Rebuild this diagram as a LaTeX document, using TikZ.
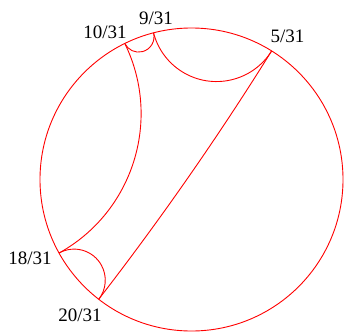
\documentclass[tikz,border=0pt]{standalone}
\usepackage{fontspec}
\setmainfont{Liberation Serif}
\usetikzlibrary{calc}
\newcommand\myR{151.5}
\tikzset{
  geo/.style={red, line width=0.9pt},
  lab/.style={font=\fontsize{19}{22}\selectfont, inner sep=0pt}
}
\newcommand\geodesic[2]{%
  \pgfmathsetmacro\ga{#1*360/31}%
  \pgfmathsetmacro\gb{#2*360/31}%
  \pgfmathsetmacro\gR{\myR*tan((\gb-\ga)/2)}%
  \draw[geo] (p#1) arc[start angle=\ga-90, end angle=\gb-270, radius=\gR pt];%
}
\begin{document}
\begin{tikzpicture}[x=1pt,y=1pt]
  \useasboundingbox (0,0) rectangle (344,-332);
  \coordinate (C) at (191.5,-179.5);
  \foreach \k in {5,9,10,18,20}{
    \coordinate (p\k) at ($(C)+({\k*360/31}:\myR pt)$);
  }
  \draw[geo] (C) circle[radius=\myR pt];
  \geodesic{9}{10}
  \geodesic{5}{9}
  \geodesic{10}{18}
  \geodesic{18}{20}
  \geodesic{5}{20}
  \node[lab] (l10) at (105,-32) {10/31};
  \node[lab] (l9) at (156,-18.5) {9/31};
  \node[lab] (l5) at (287.5,-36) {5/31};
  \node[lab] (l18) at (30,-258.5) {18/31};
  \node[lab] (l20) at (80,-315) {20/31};
\end{tikzpicture}
\end{document}
